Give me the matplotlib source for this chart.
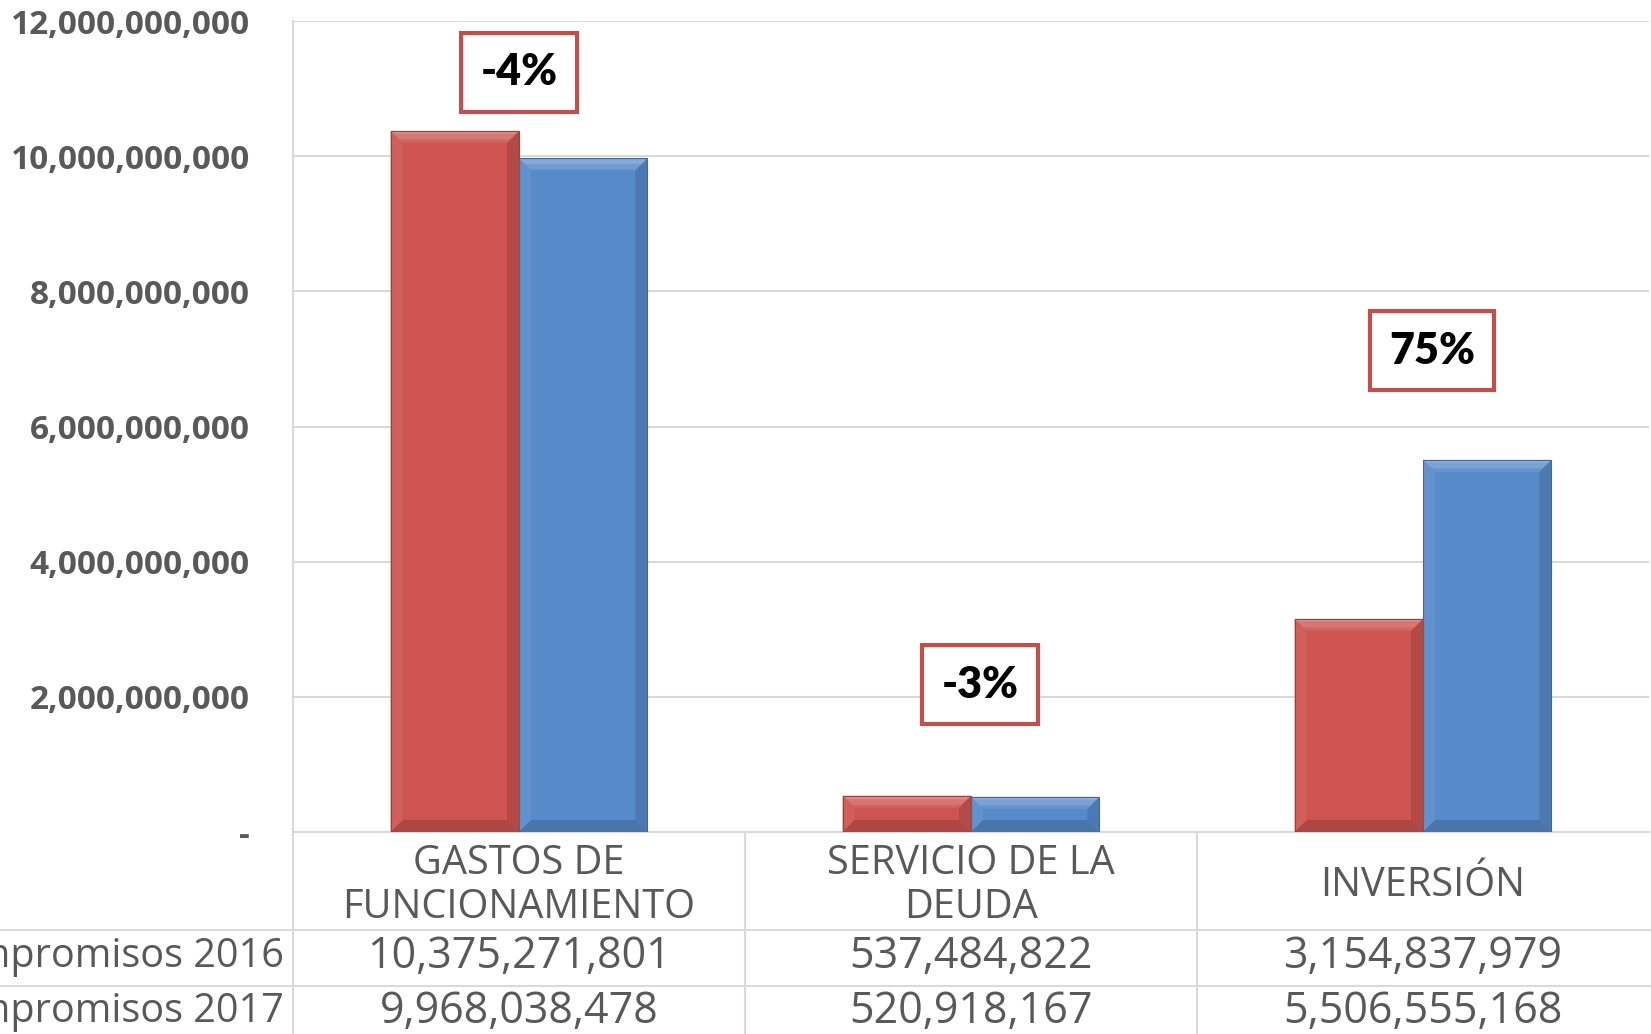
import numpy as np
import matplotlib
matplotlib.use("Agg")
from matplotlib import pyplot as plt
from matplotlib import transforms
from matplotlib.lines import Line2D
from matplotlib.patches import Polygon
from matplotlib.colors import to_rgb

# datos
categorias = ["GASTOS DE\nFUNCIONAMIENTO", "SERVICIO DE LA\nDEUDA", "INVERSIÓN"]
series = ["Compromisos 2016", "Compromisos 2017"]
comp_2016 = [10375271801, 537484822, 3154837979]
comp_2017 = [9968038478, 520918167, 5506555168]
y_ticks = [0, 2e9, 4e9, 6e9, 8e9, 10e9, 12e9]

# estilo
ROJO = "#CD5450"
AZUL = "#568AC9"
GRIS = "#595959"
LINEA = "#D9D9D9"
caja_y = [11.24e9, 2.18e9, 7.12e9]
caja_dx = [0.0, 0.02, 0.02]

W, H = 1651, 1034
fig = plt.figure(figsize=(W / 100, H / 100), dpi=100)
ax = fig.add_axes([293 / W, 202 / H, (1649 - 293) / W, (1013 - 202) / H])

x = np.arange(len(categorias))
ancho = 0.284
barras = [
    ax.bar(x - ancho / 2, comp_2016, ancho, color=ROJO, zorder=3),
    ax.bar(x + ancho / 2, comp_2017, ancho, color=AZUL, zorder=3),
]
ax.set_xlim(-0.5, len(categorias) - 0.5)
ax.set_ylim(0, 12e9)


def mezcla(c1, c2, t):
    a, b = np.array(to_rgb(c1)), np.array(to_rgb(c2))
    return tuple(a + (b - a) * t)


def bisel(rect, base, b=12, n=10):
    # bevel drawn in pixels over each bar
    x0, y0 = rect.get_x(), rect.get_y()
    x1, y1 = x0 + rect.get_width(), y0 + rect.get_height()
    (px0, py0), (px1, py1) = ax.transData.transform([(x0, y0), (x1, y1)])
    b = min(b, (py1 - py0) / 2)
    inv = ax.transData.inverted()
    claro = mezcla(base, "white", 0.38)
    oscuro = mezcla(base, "black", 0.15)

    def poly(pts, col):
        ax.add_patch(Polygon(inv.transform(pts), closed=True, facecolor=col,
                             edgecolor="none", zorder=4))

    poly([(px0, py0), (px0 + b, py0 + b), (px0 + b, py1 - b), (px0, py1)],
         mezcla(base, "white", 0.07))
    poly([(px1, py0), (px1 - b, py0 + b), (px1 - b, py1 - b), (px1, py1)],
         mezcla(base, "black", 0.12))
    poly([(px0, py0), (px1, py0), (px1 - b, py0 + b), (px0 + b, py0 + b)], oscuro)
    for k in range(n):
        t0, t1 = k / n, (k + 1) / n
        ya, yb = py1 - b * t0, py1 - b * t1
        poly([(px0 + b * t0, ya), (px1 - b * t0, ya),
              (px1 - b * t1, yb), (px0 + b * t1, yb)],
             mezcla(claro, base, t0 * 0.8))
    ax.add_patch(plt.Rectangle((x0, y0), x1 - x0, y1 - y0, fill=False,
                               edgecolor=mezcla(base, "black", 0.25),
                               linewidth=0.8, zorder=5))


for grupo, base in zip(barras, [ROJO, AZUL]):
    for rect in grupo:
        bisel(rect, base)

# ejes
ax.set_yticks(y_ticks)
ax.set_yticklabels(["-" if v == 0 else f"{v:,.0f}" for v in y_ticks],
                   fontfamily="Open Sans", fontweight="bold", fontsize=24, color=GRIS)
ax.tick_params(axis="y", length=0, pad=31)
ax.set_xticks([])
ax.yaxis.grid(True, color=LINEA, linewidth=1.5)
ax.set_axisbelow(True)
for lado in ["top", "right"]:
    ax.spines[lado].set_visible(False)
ax.spines["left"].set_color(LINEA)
ax.spines["bottom"].set_color(LINEA)
ax.spines["left"].set_linewidth(1.5)
ax.spines["bottom"].set_linewidth(1.5)

# variaciones
for i, (a, b) in enumerate(zip(comp_2016, comp_2017)):
    pct = (b / a - 1) * 100
    ax.text(i + caja_dx[i], caja_y[i], f"{pct:.0f}%", ha="center", va="center",
            fontfamily="Lato", fontweight="heavy", fontsize=31, color="black", zorder=6,
            bbox=dict(boxstyle="square,pad=0.45", facecolor="white",
                      edgecolor="#C0504D", linewidth=3))

# tabla de datos
mix = transforms.blended_transform_factory(ax.transData, fig.transFigure)
y_fila1, y_fila2 = 1 - 930 / H, 1 - 986 / H
for yy in [y_fila1, y_fila2]:
    fig.add_artist(Line2D([0, 1], [yy, yy], color=LINEA, linewidth=1.5,
                          transform=fig.transFigure))
for xv in np.arange(-0.5, len(categorias) - 0.5):
    fig.add_artist(Line2D([xv, xv], [0, 202 / H], color=LINEA, linewidth=1.5,
                          transform=mix))

for i, cat in enumerate(categorias):
    ax.text(i, 1 - 886 / H, cat, transform=mix, ha="center", va="center",
            fontfamily="Open Sans", fontsize=28.6, color=GRIS, linespacing=1.12)
    ax.text(i, 1 - 957 / H, f"{comp_2016[i]:,}", transform=mix, ha="center",
            va="center", fontfamily="Open Sans", fontsize=31, color=GRIS)
    ax.text(i, 1 - 1012 / H, f"{comp_2017[i]:,}", transform=mix, ha="center",
            va="center", fontfamily="Open Sans", fontsize=31, color=GRIS)

for nombre, yy in zip(series, [957, 1012]):
    fig.text(284 / W, 1 - yy / H, nombre, ha="right", va="center",
             fontfamily="Open Sans", fontsize=28.5, color=GRIS)

fig.savefig("out.png", dpi=100)
